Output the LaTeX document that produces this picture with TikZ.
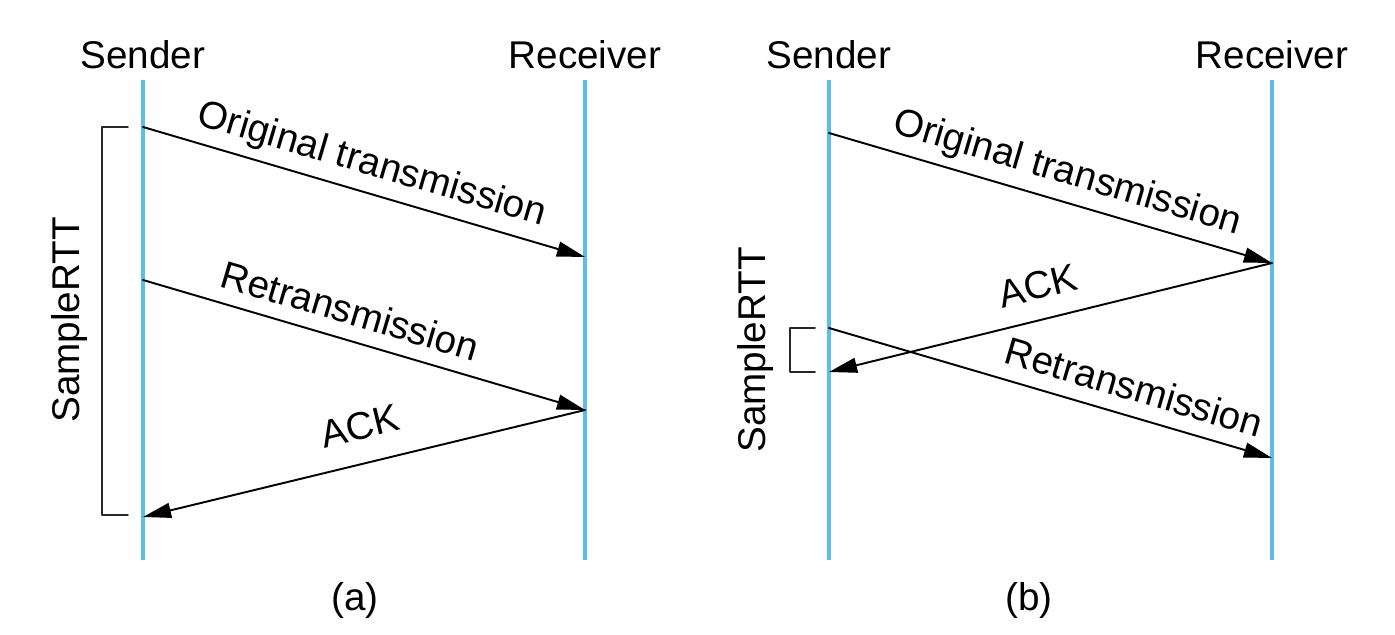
\documentclass[tikz,border=0pt]{standalone}
\usepackage{fontspec}
\setmainfont{Liberation Sans}
\usetikzlibrary{arrows.meta}
\definecolor{lifeblue}{RGB}{92,190,232}
\definecolor{brk}{RGB}{40,40,40}
\begin{document}
\begin{tikzpicture}[x=0.02cm,y=-0.02cm,line join=round,line cap=round,>={Triangle[length=16pt,width=8.5pt]},
	every node/.style={font=\fontsize{22}{26}\selectfont},
	life/.style={color=lifeblue,line width=1.9pt,line cap=butt},
	msg/.style={->,line width=1.1pt},
	lbl/.style={sloped,inner sep=3pt},
	brack/.style={color=brk,line width=1.1pt}]
	\useasboundingbox (0,0) rectangle (1395,635);
	%lifelines
	\foreach \n/\x/\t in {sa/143/Sender,ra/585/Receiver,sb/829/Sender,rb/1272/Receiver}{
		\node (\n) at (\x,55) {\t};
		\coordinate (\n-top) at (\x,80);
		\coordinate (\n-bot) at (\x,560);
		\draw[life] (\n-top)--(\n-bot);}
	%(a)
	\coordinate (a1) at (143,127); \coordinate (a2) at (585,257);
	\coordinate (a3) at (143,280); \coordinate (a4) at (585,410);
	\coordinate (a5) at (143,517);
	\draw[msg] (a1)--node[lbl,above=2pt,pos=.5] (ota) {Original transmission} (a2);
	\draw[msg] (a3)--node[lbl,above=5pt,pos=.45] (rta) {Retransmission} (a4);
	\draw[msg] (a4)--node[lbl,above=10pt,pos=.49] (acka) {ACK} (a5);
	\draw[brack] (128,127)coordinate(ka1)--(102,127)--(102,515)--(128,515)coordinate(ka2);
	\node[rotate=90] (rtta) at (70,320) {SampleRTT};
	\node (capa) at (355,600) {(a)};
	%(b)
	\coordinate (b1) at (829,133); \coordinate (b2) at (1272,263);
	\coordinate (b3) at (829,372); \coordinate (b4) at (829,328);
	\coordinate (b5) at (1272,458);
	\draw[msg] (b1)--node[lbl,above=2pt,pos=.52] (otb) {Original transmission} (b2);
	\draw[msg] (b2)--node[lbl,above=8pt,pos=.51] (ackb) {ACK} (b3);
	\draw[msg] (b4)--node[lbl,above=5pt,pos=.67] (rtb) {Retransmission} (b5);
	\draw[brack] (815,328)coordinate(kb1)--(790,328)--(790,372)--(815,372)coordinate(kb2);
	\node[rotate=90] (rttb) at (755,350) {SampleRTT};
	\node (capb) at (1029,600) {(b)};
\end{tikzpicture}
\end{document}
